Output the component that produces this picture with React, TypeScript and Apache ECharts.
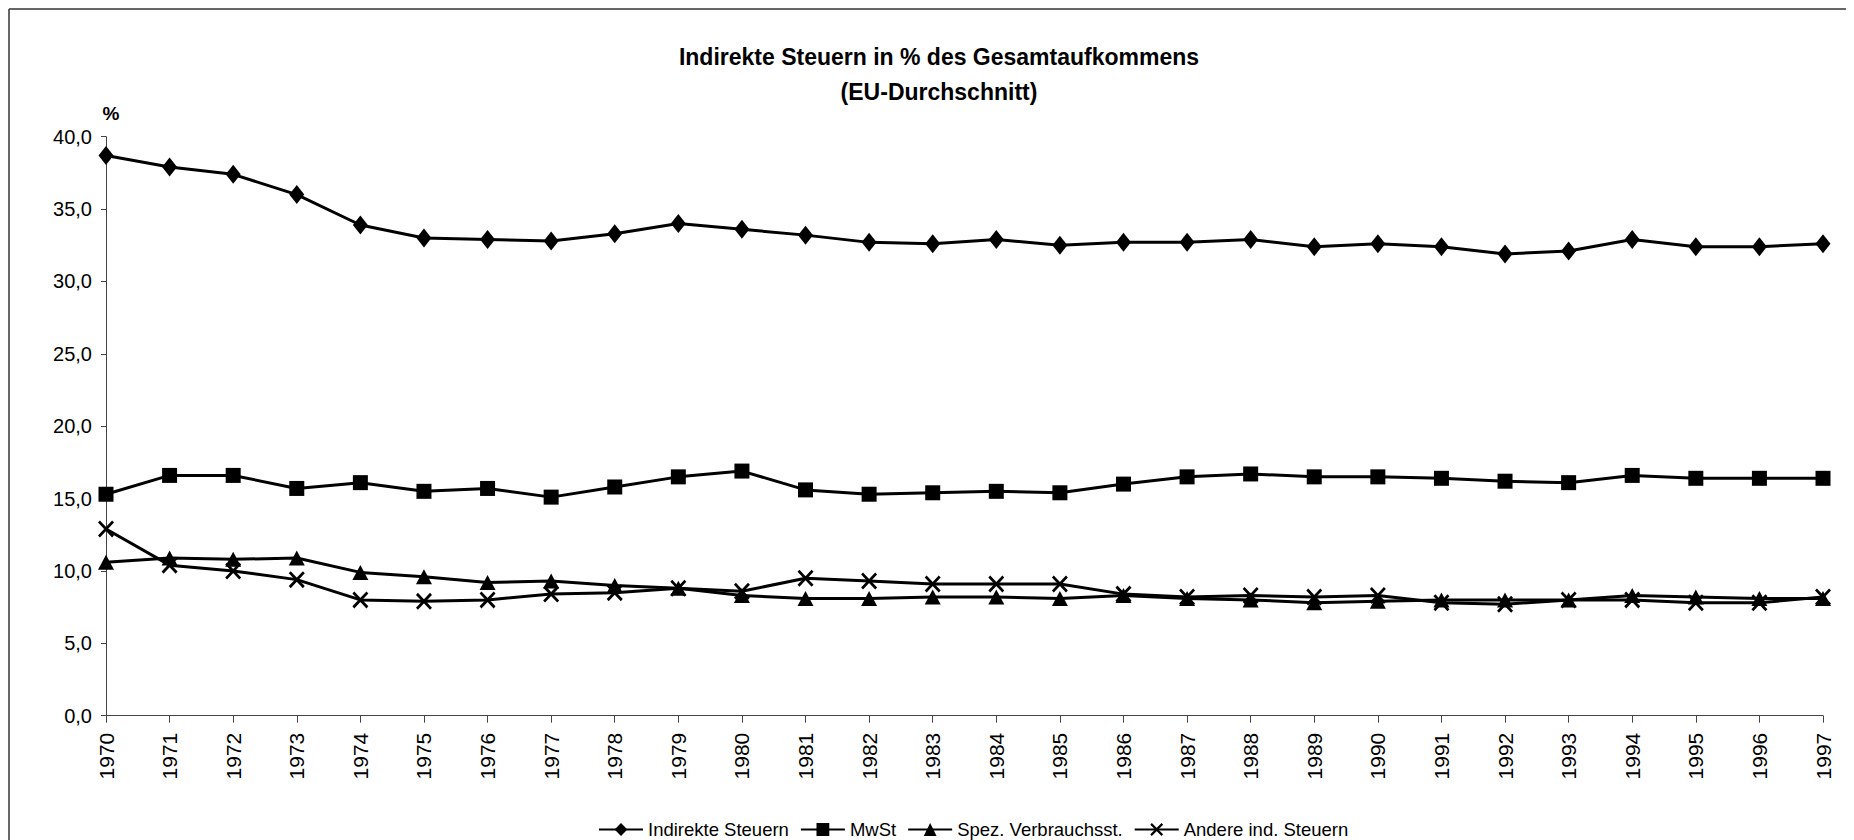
import React, { useEffect, useRef } from "react";
import * as echarts from "echarts";

const years = ["1970","1971","1972","1973","1974","1975","1976","1977","1978","1979","1980","1981","1982","1983","1984","1985","1986","1987","1988","1989","1990","1991","1992","1993","1994","1995","1996","1997"];
const indirekteSteuern = [38.7,37.9,37.4,36.0,33.9,33.0,32.9,32.8,33.3,34.0,33.6,33.2,32.7,32.6,32.9,32.5,32.7,32.7,32.9,32.4,32.6,32.4,31.9,32.1,32.9,32.4,32.4,32.6];
const mwst = [15.3,16.6,16.6,15.7,16.1,15.5,15.7,15.1,15.8,16.5,16.9,15.6,15.3,15.4,15.5,15.4,16.0,16.5,16.7,16.5,16.5,16.4,16.2,16.1,16.6,16.4,16.4,16.4];
const spezVerbrauch = [10.6,10.9,10.8,10.9,9.9,9.6,9.2,9.3,9.0,8.8,8.3,8.1,8.1,8.2,8.2,8.1,8.3,8.1,8.0,7.8,7.9,8.0,8.0,8.0,8.3,8.2,8.1,8.1];
const andere = [12.9,10.4,10.0,9.4,8.0,7.9,8.0,8.4,8.5,8.8,8.6,9.5,9.3,9.1,9.1,9.1,8.4,8.2,8.3,8.2,8.3,7.8,7.7,8.0,8.0,7.8,7.8,8.2];
const seriesNames = ["Indirekte Steuern", "MwSt", "Spez. Verbrauchsst.", "Andere ind. Steuern"];
const yTicks = { min: 0, max: 40, interval: 5 };

const FONT = "'Liberation Sans', Arial, Helvetica, sans-serif";
const X_PATH = "path://M0,1.2L1.2,0L10,8.8L8.8,10Z M8.8,0L10,1.2L1.2,10L0,8.8Z";
const PAGE_CSS = "html,body{overflow:hidden;scrollbar-width:none;}::-webkit-scrollbar{width:0;height:0;display:none;}";

export default function App() {
  const ref = useRef<HTMLDivElement>(null);
  useEffect(() => {
    if (!ref.current) return;
    const chart = echarts.init(ref.current, null, { renderer: "svg" });
    const mk = (name: string, data: number[], symbol: string, size: any) => ({
      name,
      type: "line",
      data,
      symbol,
      symbolSize: size,
      symbolKeepAspect: false,
      showSymbol: true,
      lineStyle: { color: "#000", width: 3 },
      itemStyle: { color: "#000", borderColor: "#000", borderWidth: 0 },
      emphasis: { disabled: true },
    });
    chart.setOption({
      animation: false,
      backgroundColor: "#fff",
      textStyle: { fontFamily: FONT, color: "#000" },
      title: {
        text: "Indirekte Steuern in % des Gesamtaufkommens\n(EU-Durchschnitt)",
        left: 926,
        top: 26,
        textAlign: "center",
        textStyle: { fontFamily: FONT, fontSize: 23, fontWeight: "bold", color: "#000", lineHeight: 35 },
      },
      graphic: [
        {
          type: "line",
          shape: { x1: 1, y1: 1, x2: 1846, y2: 1 },
          style: { stroke: "#333", lineWidth: 1.5 },
          silent: true,
        },
        {
          type: "line",
          shape: { x1: 1, y1: 1, x2: 1, y2: 832 },
          style: { stroke: "#333", lineWidth: 1.5 },
          silent: true,
        },
        {
          type: "text",
          x: 103,
          y: 105,
          style: { text: "%", fontFamily: FONT, fontSize: 19, fontWeight: "bold", fill: "#000", align: "center", verticalAlign: "middle" },
        },
      ],
      legend: {
        left: 585,
        top: 807,
        itemWidth: 44,
        itemHeight: 16,
        itemGap: 11,
        textStyle: { fontFamily: FONT, fontSize: 18.5, color: "#000" },
        data: seriesNames,
      },
      grid: { left: 98, right: 31, top: 128.7, bottom: 124.3, containLabel: false },
      xAxis: {
        type: "category",
        data: years,
        boundaryGap: false,
        axisLine: { lineStyle: { color: "#444", width: 1 } },
        axisTick: { show: true, length: 7, alignWithLabel: true, lineStyle: { color: "#444" } },
        axisLabel: { rotate: 90, fontSize: 21, color: "#000", margin: 17, fontFamily: FONT, interval: 0 },
        splitLine: { show: false },
      },
      yAxis: {
        type: "value",
        min: yTicks.min,
        max: yTicks.max,
        interval: yTicks.interval,
        axisLine: { show: true, lineStyle: { color: "#444", width: 1 } },
        axisTick: { show: true, length: 5, lineStyle: { color: "#444" } },
        axisLabel: {
          fontSize: 20,
          color: "#000",
          margin: 14,
          fontFamily: FONT,
          formatter: (v: number) => v.toFixed(1).replace(".", ","),
        },
        splitLine: { show: false },
      },
      series: [
        mk(seriesNames[0], indirekteSteuern, "diamond", [15, 19]),
        mk(seriesNames[1], mwst, "rect", [15, 15]),
        mk(seriesNames[2], spezVerbrauch, "triangle", [16, 15]),
        mk(seriesNames[3], andere, X_PATH, [16, 17]),
      ],
    });
    return () => chart.dispose();
  }, []);
  return (
    <>
      <style>{PAGE_CSS}</style>
      <div ref={ref} style={{ width: 1846, height: 832 }} />
    </>
  );
}
